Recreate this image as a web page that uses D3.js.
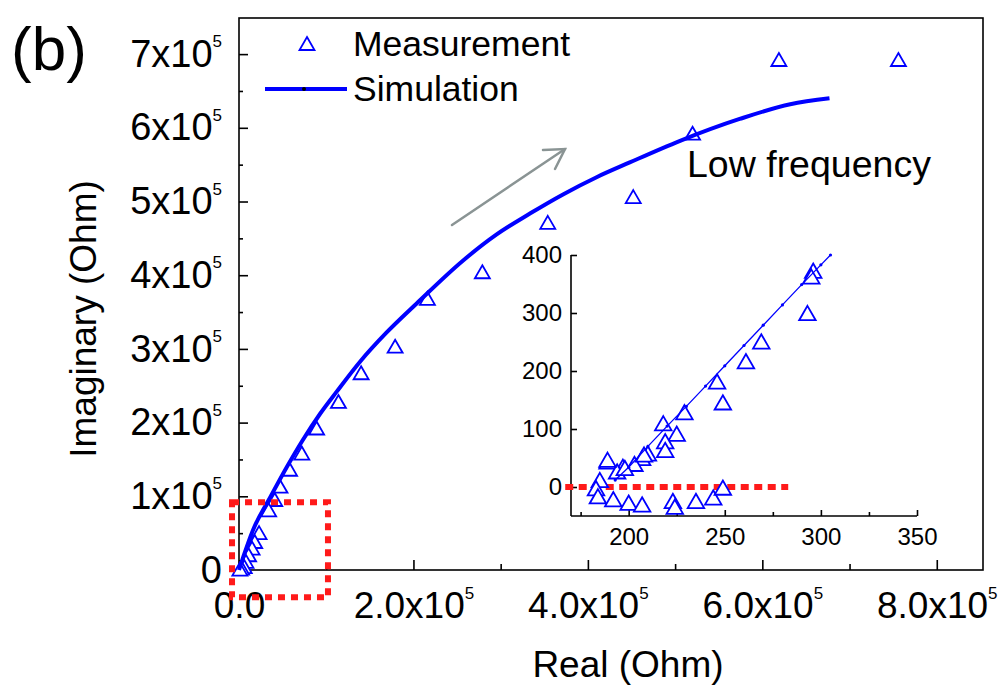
<!DOCTYPE html>
<html>
<head>
<meta charset="utf-8">
<script src="https://cdn.jsdelivr.net/npm/d3@7"></script>
<style>
  html, body { margin: 0; padding: 0; background: #fff; }
  svg { display: block; font-family: "Liberation Sans", Arial, sans-serif; }
</style>
</head>
<body>
<svg id="chart" width="1003" height="685"></svg>
<script>
// Impedance spectrum (Nyquist plot): measured points and simulated fit.
// Main plot values in Ohm.
const measReal = [756000, 619000, 520000, 452000, 354000, 279000, 216000, 179000, 140000, 114000,
  89000, 72000, 58000, 47000, 41000, 34000, 23000, 18000, 15000, 11000, 8000, 6000, 3000, 1000];
const measImag = [692000, 692000, 592000, 506000, 471000, 404000, 368000, 303000, 267000, 228000,
  192000, 158000, 136000, 113000, 95000, 81000, 50000, 38000, 29000, 20000, 11000, 4000, 2000, 500];

const simReal = [0, 5000, 16000, 36000, 55000, 73000, 93000, 112000, 139000, 169000, 204000,
  257000, 295000, 334000, 372000, 410000, 448000, 505000, 574000, 632000, 677000];
const simImag = [0, 18000, 54000, 99000, 140000, 176000, 212000, 242000, 283000, 322000, 362000,
  420000, 455000, 484000, 510000, 533000, 553000, 582000, 612000, 632000, 640000];

// Close-up of the high-frequency region (Ohm).
const insetReal = [296, 295, 293, 269, 261, 246, 249, 229, 225, 218, 219, 219, 210, 207, 203, 197,
  189, 194, 185, 183, 184, 192, 200, 207, 223, 224, 235, 244, 249, 198, 189, 208];
const insetImag = [372, 362, 299, 250, 216, 181, 145, 128, 91, 109, 78, 63, 57, 49, 39, 34,
  43, 26, 11, -3, -17, -22, -28, -31, -25, -35, -25, -19, -2, 32, 46, 55];

const insetSimReal = [193, 200, 210, 220, 230, 240, 250, 260, 270, 280, 290, 300, 305];
const insetSimImag = [12, 34, 70, 105, 139, 174, 209, 244, 279, 314, 349, 383, 400];

const yTicks = [0, 100000, 200000, 300000, 400000, 500000, 600000, 700000];
const yTickText = ["0", "1x10", "2x10", "3x10", "4x10", "5x10", "6x10", "7x10"];
const xTicks = [0, 200000, 400000, 600000, 800000];
const xTickText = ["0.0", "2.0x10", "4.0x10", "6.0x10", "8.0x10"];
const insetYTicks = [0, 100, 200, 300, 400];
const insetXTicks = [200, 250, 300, 350];

const BLUE = "#0000ff";
const svg = d3.select("#chart");

// ---- main plot scales ----
const x = d3.scaleLinear().domain([0, 853000]).range([239, 983]);
const y = d3.scaleLinear().domain([0, 749000]).range([570, 18]);

// frame
svg.append("rect")
  .attr("x", x(0)).attr("y", y(749000))
  .attr("width", x(853000) - x(0)).attr("height", y(0) - y(749000))
  .attr("fill", "none").attr("stroke", "#000").attr("stroke-width", 1.6);

function superscriptLabels(sel, texts, ticks, expSize) {
  sel.selectAll(".tick text").each(function (d) {
    const i = ticks.indexOf(d);
    const t = d3.select(this);
    t.text(null);
    t.append("tspan").text(texts[i]);
    if (texts[i].indexOf("x10") >= 0) {
      t.append("tspan").attr("font-size", expSize).attr("dy", "-1.15em").text("5");
    }
  });
}

// y axis (ticks inward)
const gy = svg.append("g").attr("transform", `translate(${x(0)},0)`)
  .call(d3.axisLeft(y).tickValues(yTicks).tickSize(-9).tickPadding(17).tickFormat((d, i) => yTickText[i]));
gy.select(".domain").remove();
gy.selectAll("text").attr("font-size", 38).attr("fill", "#000");
gy.selectAll("line").attr("stroke", "#000").attr("stroke-width", 1.6);
superscriptLabels(gy, yTickText, yTicks, 17);

const gyMinor = svg.append("g").attr("transform", `translate(${x(0)},0)`)
  .call(d3.axisLeft(y).tickValues([50000, 150000, 250000, 350000, 450000, 550000, 650000]).tickSize(-4).tickFormat(""));
gyMinor.select(".domain").remove();
gyMinor.selectAll("line").attr("stroke", "#000").attr("stroke-width", 1.6);

// x axis
const gx = svg.append("g").attr("transform", `translate(0,${y(0)})`)
  .call(d3.axisBottom(x).tickValues(xTicks).tickSize(-10).tickPadding(22).tickFormat((d, i) => xTickText[i]));
gx.select(".domain").remove();
gx.selectAll("text").attr("font-size", 37).attr("fill", "#000");
gx.selectAll("line").attr("stroke", "#000").attr("stroke-width", 1.6);
superscriptLabels(gx, xTickText, xTicks, 17);

const gxMinor = svg.append("g").attr("transform", `translate(0,${y(0)})`)
  .call(d3.axisBottom(x).tickValues([100000, 300000, 500000, 700000]).tickSize(-6).tickFormat(""));
gxMinor.select(".domain").remove();
gxMinor.selectAll("line").attr("stroke", "#000").attr("stroke-width", 1.6);

// axis titles
svg.append("text").attr("x", 628).attr("y", 677).attr("text-anchor", "middle")
  .attr("font-size", 37).text("Real (Ohm)");
svg.append("text").attr("transform", "translate(96,319) rotate(-90)").attr("text-anchor", "middle")
  .attr("font-size", 37).text("Imaginary (Ohm)");
svg.append("text").attr("x", 11).attr("y", 70).attr("font-size", 62).text("(b)");

// triangle marker
function tri(cx, cy, s) {
  const k = s || 1;
  return `M${cx},${cy - 7 * k}L${cx + 7.5 * k},${cy + 6 * k}L${cx - 7.5 * k},${cy + 6 * k}Z`;
}

// measured points
svg.append("g").selectAll("path").data(d3.range(measReal.length)).join("path")
  .attr("d", i => tri(x(measReal[i]), y(measImag[i])))
  .attr("fill", "#fff").attr("stroke", BLUE).attr("stroke-width", 1.8);

// simulated curve
const simLine = d3.line().x(i => x(simReal[i])).y(i => y(simImag[i])).curve(d3.curveMonotoneX);
svg.append("path").datum(d3.range(simReal.length)).attr("d", simLine)
  .attr("fill", "none").attr("stroke", BLUE).attr("stroke-width", 4).attr("stroke-linejoin", "round");

// zoomed region outline near origin
svg.append("rect")
  .attr("x", x(-8000)).attr("y", y(92000))
  .attr("width", x(102000) - x(-8000)).attr("height", y(-37000) - y(92000))
  .attr("fill", "none").attr("stroke", "#ff1a1a").attr("stroke-width", 6)
  .attr("stroke-dasharray", "7,6");

// legend
svg.append("path").attr("d", tri(307, 44)).attr("fill", "#fff").attr("stroke", BLUE).attr("stroke-width", 1.8);
svg.append("text").attr("x", 353).attr("y", 56).attr("font-size", 35.5).text("Measurement");
svg.append("line").attr("x1", 265).attr("x2", 347).attr("y1", 89).attr("y2", 89)
  .attr("stroke", BLUE).attr("stroke-width", 4);
svg.append("circle").attr("cx", 304).attr("cy", 89).attr("r", 2).attr("fill", "#000");
svg.append("text").attr("x", 353).attr("y", 101).attr("font-size", 35.5).text("Simulation");

// frequency direction arrow
const arrow = svg.append("g").attr("stroke", "#8a9494").attr("stroke-width", 2.5).attr("fill", "none")
  .attr("stroke-linecap", "round");
arrow.append("line").attr("x1", 452).attr("y1", 225).attr("x2", 565).attr("y2", 149);
arrow.append("polyline").attr("points", "543,150 565,149 555,169");
svg.append("text").attr("x", 687).attr("y", 177).attr("font-size", 37.5).text("Low frequency");

// ---- inset ----
const ix = d3.scaleLinear().domain([170, 350]).range([571, 917]);
const iy = d3.scaleLinear().domain([-50, 400]).range([516, 255]);

const inset = svg.append("g");
const igy = inset.append("g").attr("transform", `translate(${ix(170)},0)`)
  .call(d3.axisLeft(iy).tickValues(insetYTicks).tickSize(-6).tickPadding(9).tickSizeOuter(0));
igy.select(".domain").attr("d", `M0,${iy(400)}V${iy(-50)}`);
const igx = inset.append("g").attr("transform", `translate(0,${iy(-50)})`)
  .call(d3.axisBottom(ix).tickValues(insetXTicks).tickSize(-6).tickPadding(12).tickSizeOuter(0));
igx.select(".domain").attr("d", `M${ix(170)},0H${ix(350)}`);
const igxMinor = inset.append("g").attr("transform", `translate(0,${iy(-50)})`)
  .call(d3.axisBottom(ix).tickValues([175, 225, 275, 325]).tickSize(-4).tickFormat(""));
igxMinor.select(".domain").remove();
inset.selectAll("text").attr("font-size", 24).attr("fill", "#000");
inset.selectAll("line, .domain").attr("stroke", "#000").attr("stroke-width", 1.6);

// zero reference
inset.append("line").attr("x1", ix(167)).attr("x2", ix(283)).attr("y1", iy(0)).attr("y2", iy(0))
  .attr("stroke", "#ff1a1a").attr("stroke-width", 6).attr("stroke-dasharray", "8,5.5");

inset.append("g").selectAll("path").data(d3.range(insetReal.length)).join("path")
  .attr("d", i => tri(ix(insetReal[i]), iy(insetImag[i]), 1.1))
  .attr("fill", "#fff").attr("stroke", BLUE).attr("stroke-width", 1.8);

const insetLine = d3.line().x(i => ix(insetSimReal[i])).y(i => iy(insetSimImag[i]));
inset.append("path").datum(d3.range(insetSimReal.length)).attr("d", insetLine)
  .attr("fill", "none").attr("stroke", BLUE).attr("stroke-width", 1.3);
inset.append("g").selectAll("circle").data(d3.range(insetSimReal.length)).join("circle")
  .attr("cx", i => ix(insetSimReal[i])).attr("cy", i => iy(insetSimImag[i])).attr("r", 1.6).attr("fill", BLUE);
</script>
</body>
</html>
